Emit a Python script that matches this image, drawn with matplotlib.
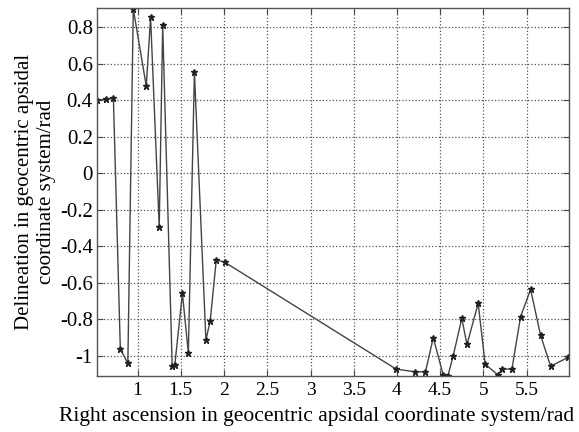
import matplotlib
matplotlib.use("Agg")
import matplotlib.pyplot as plt
from matplotlib.ticker import FormatStrFormatter

# right ascension (rad) and delineation (rad)
right_ascension = [0.53, 0.64, 0.72, 0.80, 0.887, 0.95, 1.10, 1.15, 1.25, 1.29,
                   1.40, 1.43, 1.518, 1.587, 1.657, 1.79, 1.84, 1.91, 2.01, 3.99,
                   4.21, 4.33, 4.42, 4.535, 4.59, 4.65, 4.75, 4.81, 4.94, 5.02,
                   5.17, 5.21, 5.33, 5.43, 5.546, 5.661, 5.777, 5.98]
delineation = [0.40, 0.405, 0.41, -0.964, -1.043, 0.90, 0.477, 0.853, -0.294, 0.81,
               -1.056, -1.052, -0.659, -0.985, 0.555, -0.915, -0.809, -0.475, -0.489, -1.074,
               -1.089, -1.089, -0.902, -1.107, -1.11, -1.003, -0.796, -0.939, -0.714, -1.047,
               -1.107, -1.074, -1.074, -0.787, -0.637, -0.888, -1.058, -1.01]

x_ticks = [1, 1.5, 2, 2.5, 3, 3.5, 4, 4.5, 5, 5.5]
y_ticks = [-1, -0.8, -0.6, -0.4, -0.2, 0, 0.2, 0.4, 0.6, 0.8]

plt.rcParams["font.family"] = ["Liberation Serif", "DejaVu Serif"]
plt.rcParams["axes.unicode_minus"] = False

fig = plt.figure(figsize=(5.79, 4.32), dpi=100)
ax = fig.add_axes([0.1675, 0.1296, 0.8152, 0.8519])

ax.plot(right_ascension, delineation, color="#444444", linewidth=1.0,
        marker="*", markersize=5, markerfacecolor="#222222", markeredgecolor="#222222")

ax.set_xlim(0.53, 5.99)
ax.set_ylim(-1.112, 0.905)
ax.set_xticks(x_ticks)
ax.set_yticks(y_ticks)
ax.xaxis.set_major_formatter(FormatStrFormatter("%g"))
ax.yaxis.set_major_formatter(FormatStrFormatter("%g"))
ax.tick_params(direction="in", top=True, right=True, length=4, color="#444444")
ax.tick_params(axis="x", labelsize=14, pad=4)
ax.tick_params(axis="y", labelsize=15, pad=3)
ax.grid(True, linestyle=":", color="#555555", linewidth=0.9)
for s in ax.spines.values():
    s.set_color("#555555")
    s.set_linewidth(1.0)

ax.set_xlabel("Right ascension in geocentric apsidal coordinate system/rad", fontsize=15.5)
ax.xaxis.set_label_coords(0.466, -0.085)
ax.set_ylabel("Delineation in geocentric apsidal\ncoordinate system/rad", fontsize=15, labelpad=3)

fig.savefig("out.png", dpi=100)
plt.close(fig)
